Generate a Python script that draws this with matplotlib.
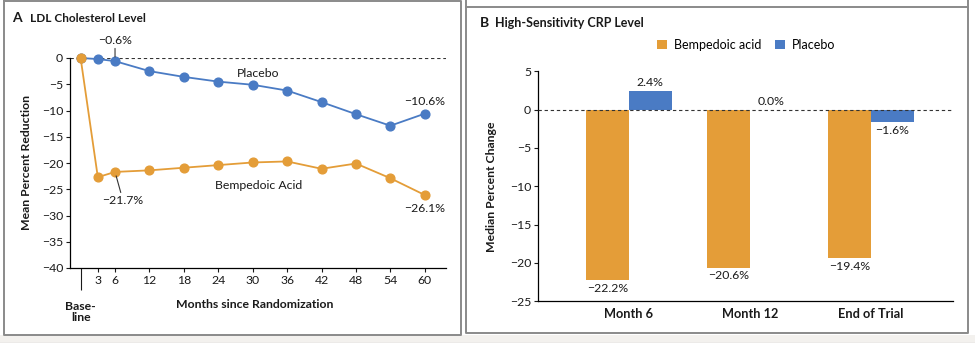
import matplotlib
matplotlib.use("Agg")
import matplotlib.pyplot as plt
from matplotlib.patches import Rectangle
from matplotlib.lines import Line2D
from matplotlib.transforms import blended_transform_factory

plt.rcParams["font.family"] = ["Lato", "DejaVu Sans"]
plt.rcParams["axes.linewidth"] = 0.9

# LDL cholesterol, mean percent reduction by month
months = [0, 3, 6, 12, 18, 24, 30, 36, 42, 48, 54, 60]
placebo_ldl = [0, -0.2, -0.6, -2.5, -3.6, -4.5, -5.1, -6.2, -8.4, -10.7, -12.9, -10.6]
bempedoic_ldl = [0, -22.7, -21.7, -21.4, -20.9, -20.4, -19.9, -19.7, -21.1, -20.1, -22.9, -26.1]
ldl_xticks = [3, 6, 12, 18, 24, 30, 36, 42, 48, 54, 60]
ldl_yticks = [0, -5, -10, -15, -20, -25, -30, -35, -40]

# hs-CRP, median percent change
crp_groups = ["Month 6", "Month 12", "End of Trial"]
bempedoic_crp = [-22.2, -20.6, -19.4]
placebo_crp = [2.4, 0.0, -1.6]
crp_yticks = [5, 0, -5, -10, -15, -20, -25]

ORANGE = "#E49D38"
BLUE = "#4A7BC4"
TXT = "#1a1a1a"

W, H = 975, 343
fig = plt.figure(figsize=(W / 100, H / 100), dpi=100)


def px(x0, y0, x1, y1):
    # pixel box (top-left origin) -> figure fraction rect
    return [x0 / W, 1 - y1 / H, (x1 - x0) / W, (y1 - y0) / H]


def frame_line(xs, ys, color="#8a8a8a", lw=1.4):
    fig.add_artist(Line2D([x / W for x in xs], [1 - y / H for y in ys],
                          transform=fig.transFigure, color=color, lw=lw))


# panel frames and bottom strip
fig.add_artist(Rectangle((0, 0), 1, 1 - 335 / H, transform=fig.transFigure,
                         facecolor="#f3f1ee", edgecolor="none", zorder=0))
frame_line([4, 4, 461, 461, 4], [1, 335, 335, 1, 1])
frame_line([466, 466, 968, 968], [0, 333, 333, 0])
frame_line([466, 968], [7, 7])
frame_line([0, 975], [343, 343], color="#d0d0d0", lw=1)

# ---------------- panel A ----------------
ax1 = fig.add_axes(px(70, 58, 446, 268))
ax1.plot(months, placebo_ldl, color=BLUE, lw=1.3, marker="o", ms=6.3,
         clip_on=False, zorder=3)
ax1.plot(months, bempedoic_ldl, color=ORANGE, lw=1.3, marker="o", ms=6.3,
         clip_on=False, zorder=3)
ax1.axhline(0, color="#333333", lw=0.8, ls=(0, (3, 2.5)), zorder=1)
ax1.set_xlim(-1.85, 63.7)
ax1.set_ylim(-40, 0)
for s in ["top", "right"]:
    ax1.spines[s].set_visible(False)
ax1.set_yticks(ldl_yticks)
ax1.set_xticks(ldl_xticks)
ax1.set_xticks([0], minor=True)
ax1.tick_params(axis="both", which="major", labelsize=8.8, length=3,
                width=0.8, colors=TXT, pad=2)
ax1.tick_params(axis="x", which="minor", length=16, width=0.8, color=TXT)
ax1.set_xlabel("Months since Randomization", fontsize=8.8, fontweight="bold",
               color=TXT)
ax1.xaxis.set_label_coords(0.49, -0.15)
ax1.set_ylabel("Mean Percent Reduction", fontsize=8.8, fontweight="bold",
               color=TXT)
ax1.yaxis.set_label_coords(-0.1, 0.5)
trans = blended_transform_factory(ax1.transData, ax1.transAxes)
ax1.text(0, -0.155, "Base-\nline", transform=trans, ha="center", va="top",
         fontsize=8.8, fontweight="bold", color=TXT, linespacing=1.05)
fig.text(12 / W, 1 - 18 / H, "A", fontsize=10, fontweight="bold", color=TXT,
         va="center")
fig.text(30 / W, 1 - 18 / H, "LDL Cholesterol Level", fontsize=8.5,
         fontweight="bold", color=TXT, va="center")

lead = dict(arrowstyle="-", color="#333333", lw=0.8, shrinkA=0, shrinkB=3)
ax1.annotate("\u22120.6%", xy=(months[2], placebo_ldl[2]), xytext=(6, 3.4),
             ha="center", va="center", fontsize=8.8, color=TXT,
             annotation_clip=False, arrowprops=lead)
ax1.annotate("\u221221.7%", xy=(months[2], bempedoic_ldl[2]), xytext=(7.4, -27.2),
             ha="center", va="center", fontsize=8.8, color=TXT,
             annotation_clip=False, arrowprops=lead)
ax1.text(31, -2.9, "Placebo", ha="center", va="center", fontsize=8.8, color=TXT)
ax1.text(31, -24.3, "Bempedoic Acid", ha="center", va="center", fontsize=8.8,
         color=TXT)
ax1.text(60, placebo_ldl[-1] + 2.3, "\u221210.6%", ha="center", va="center",
         fontsize=8.8, color=TXT)
ax1.text(60, bempedoic_ldl[-1] - 2.6, "\u221226.1%", ha="center", va="center",
         fontsize=8.8, color=TXT)

# ---------------- panel B ----------------
ax2 = fig.add_axes(px(538, 71.3, 953, 301.3))
xs = list(range(len(crp_groups)))
bw = 0.355
b1 = ax2.bar([x - bw / 2 for x in xs], bempedoic_crp, width=bw, color=ORANGE,
             label="Bempedoic acid", zorder=2)
b2 = ax2.bar([x + bw / 2 for x in xs], placebo_crp, width=bw, color=BLUE,
             label="Placebo", zorder=2)
ax2.axhline(0, color="#333333", lw=0.8, ls=(0, (3, 2.5)), zorder=3)
ax2.set_xlim(-0.75, 2.68)
ax2.set_ylim(-25, 5)
for s in ["top", "right"]:
    ax2.spines[s].set_visible(False)
ax2.set_yticks(crp_yticks)
ax2.set_xticks(xs)
ax2.set_xticklabels(crp_groups, fontsize=9.2, fontweight="bold", color=TXT)
ax2.tick_params(axis="x", length=0, pad=5)
ax2.tick_params(axis="y", labelsize=8.8, length=3, width=0.8, colors=TXT, pad=2)
ax2.set_ylabel("Median Percent Change", fontsize=8.8, fontweight="bold",
               color=TXT)
ax2.yaxis.set_label_coords(-0.098, 0.5)

for bars, vals in [(b1, bempedoic_crp), (b2, placebo_crp)]:
    for rect, v in zip(bars, vals):
        cx = rect.get_x() + rect.get_width() / 2
        off = 6 if v >= 0 else -6
        ax2.annotate(f"{v:.1f}%".replace("-", "\u2212"), xy=(cx, v),
                     xytext=(0, off), textcoords="offset points", ha="center",
                     va="center", fontsize=8.8, color=TXT)

ax2.legend(loc="center", bbox_to_anchor=(0.502, 1.115), ncol=2, frameon=False,
           fontsize=9.0, handlelength=0.75, handleheight=0.75,
           handletextpad=0.6, columnspacing=1.1, borderaxespad=0)
fig.text(480 / W, 1 - 23 / H, "B", fontsize=10, fontweight="bold", color=TXT,
         va="center")
fig.text(495 / W, 1 - 23 / H, "High-Sensitivity CRP Level", fontsize=9.0,
         fontweight="bold", color=TXT, va="center")

fig.savefig("out.png", dpi=100, facecolor="white")
